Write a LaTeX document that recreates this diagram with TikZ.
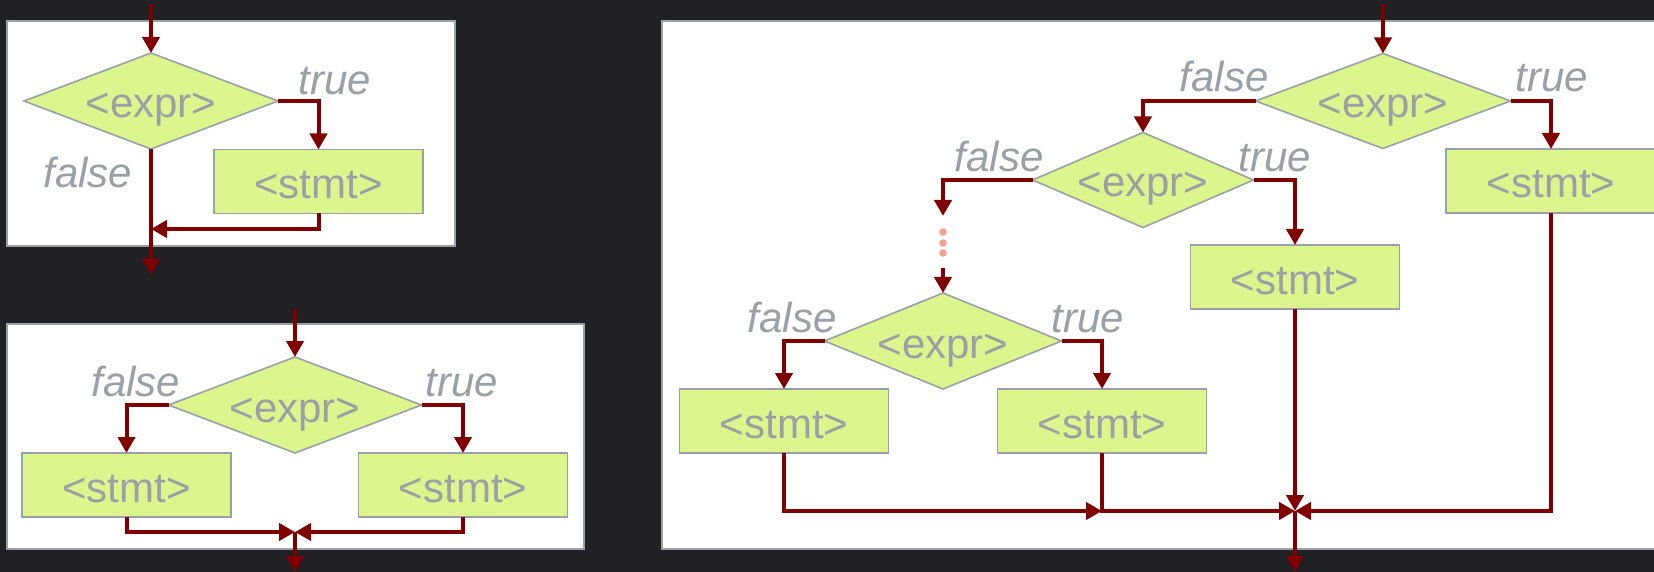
\documentclass[tikz,border=0pt]{standalone}
\usepackage{fontspec}
\setmainfont{Liberation Sans}
\usetikzlibrary{shapes.geometric,arrows.meta}

\definecolor{pagebg}{HTML}{202124}
\definecolor{frameline}{HTML}{9AA0A6}
\definecolor{shapefill}{HTML}{DCF58C}
\definecolor{labelgray}{HTML}{9AA0A6}
\definecolor{flowred}{HTML}{800000}
\definecolor{dotsalmon}{HTML}{F4A392}

\tikzset{
  panel/.style={fill=white, draw=frameline, line width=1pt},
  shapetext/.style={text=labelgray, font=\fontsize{21}{21}\selectfont,
    text height=17pt, text depth=0pt, inner sep=0pt, outer sep=0pt},
  cond/.style={shapetext, diamond, shape aspect=2.5, fill=shapefill,
    draw=frameline, line width=0.8pt},
  stmtbox/.style={shapetext, rectangle, fill=shapefill, draw=frameline,
    line width=0.8pt, minimum width=104.5pt, minimum height=32pt},
  branch/.style={text=labelgray, font=\itshape\fontsize{21}{21}\selectfont,
    inner sep=0pt, anchor=base},
  flow/.style={draw=flowred, line width=2pt,
    -{Triangle[length=8pt,width=8.5pt]}},
  dot/.style={circle, fill=dotsalmon, inner sep=0pt, minimum size=3.8pt}
}

\begin{document}
\begin{tikzpicture}[x=0.5pt, y=-0.5pt]
  % page
  \clip (0,0) rectangle (1654,572);
  \fill[pagebg] (0,0) rectangle (1654,572);

  % ---------------- if ----------------
  \draw[panel] (7,21) rectangle (455,246);
  \node[cond, minimum width=127pt, minimum height=48pt] (d1) at (151,101) {<expr>};
  \node[stmtbox] (s1) at (318.5,181.5) {<stmt>};
  \node[branch] (t1) at (335,95) {true};
  \node[branch] (f1) at (88,188) {false};
  \coordinate (in1) at (151,4);
  \coordinate (j1) at (151,229);
  \coordinate (out1) at (151,275);
  \draw[flow] (in1) -- (d1.north);
  \draw[flow] (d1.east) -| (s1.north);
  \draw[flow] (d1.south) -- (out1);
  \draw[flow] (s1.south) |- (j1);

  % ---------------- if / else ----------------
  \draw[panel] (7,324) rectangle (584,549);
  \node[cond, minimum width=126.5pt, minimum height=48pt] (d2) at (295,405) {<expr>};
  \node[stmtbox] (s2a) at (126.5,485) {<stmt>};
  \node[stmtbox] (s2b) at (463,485) {<stmt>};
  \node[branch] (f2) at (136,396) {false};
  \node[branch] (t2) at (462,396) {true};
  \coordinate (in2) at (295,309);
  \coordinate (j2) at (295,532);
  \coordinate (out2) at (295,572);
  \draw[flow] (in2) -- (d2.north);
  \draw[flow] (d2.west) -| (s2a.north);
  \draw[flow] (d2.east) -| (s2b.north);
  \draw[flow] (s2a.south) |- (j2);
  \draw[flow] (s2b.south) |- (j2);
  \draw[flow] (j2) -- (out2);

  % ---------------- if / else if chain ----------------
  \draw[panel] (662,21) rectangle (1680,549);
  \node[cond, minimum width=127.5pt, minimum height=47.5pt] (d3a) at (1383,101) {<expr>};
  \node[cond, minimum width=110.5pt, minimum height=47.5pt] (d3b) at (1143,180) {<expr>};
  \node[cond, minimum width=118.5pt, minimum height=48pt] (d3c) at (943,341) {<expr>};
  \node[stmtbox, minimum width=105pt] (s3a) at (1551,181) {<stmt>};
  \node[stmtbox] (s3b) at (1295,277) {<stmt>};
  \node[stmtbox] (s3c) at (784,421) {<stmt>};
  \node[stmtbox] (s3d) at (1102,421) {<stmt>};

  \node[branch] (f3a) at (1224,92) {false};
  \node[branch] (t3a) at (1552,92) {true};
  \node[branch] (f3b) at (999,172) {false};
  \node[branch] (t3b) at (1275,172) {true};
  \node[branch] (f3c) at (792,332) {false};
  \node[branch] (t3c) at (1088,332) {true};

  \coordinate (in3) at (1383,4);
  \coordinate (gap1) at (943,216);
  \coordinate (gap2) at (943,268);
  \coordinate (j3a) at (1102,511);
  \coordinate (j3b) at (1295,511);
  \coordinate (out3) at (1295,572);

  \draw[flow] (in3) -- (d3a.north);
  \draw[flow] (d3a.west) -| (d3b.north);
  \draw[flow] (d3a.east) -| (s3a.north);
  \draw[flow] (d3b.east) -| (s3b.north);
  \draw[flow] (d3b.west) -| (gap1);
  \node[dot] (p1) at (943,232) {};
  \node[dot] (p2) at (943,243) {};
  \node[dot] (p3) at (943,253) {};
  \draw[flow] (gap2) -- (d3c.north);
  \draw[flow] (d3c.west) -| (s3c.north);
  \draw[flow] (d3c.east) -| (s3d.north);

  \draw[flow] (s3c.south) |- (j3a);
  \draw[flow] (s3d.south) |- (j3b);
  \draw[flow] (s3b.south) -- (j3b);
  \draw[flow] (s3a.south) |- (j3b);
  \draw[flow] (j3b) -- (out3);
\end{tikzpicture}
\end{document}
